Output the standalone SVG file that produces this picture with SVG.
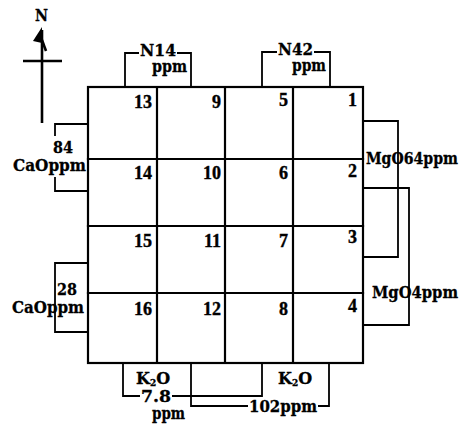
<svg xmlns="http://www.w3.org/2000/svg" width="468" height="424" viewBox="0 0 468 424">
<style>
.g{fill:none;stroke:#000;stroke-width:2.2;stroke-linecap:square}
.b{fill:none;stroke:#000;stroke-width:1.8}
.n{font-family:"Liberation Serif",serif;font-weight:bold;font-size:18px;fill:#000;stroke:#000;stroke-width:0.4;text-anchor:end}
.t{font-family:"DejaVu Serif","Liberation Serif",serif;font-weight:bold;font-size:16px;fill:#000;stroke:#000;stroke-width:0.3}
.s{font-size:9px}
</style>
<rect width="468" height="424" fill="#fff"/>
<g id="north">
<text class="t" x="35" y="21" textLength="13" lengthAdjust="spacingAndGlyphs">N</text>
<polygon points="42,27 33,41 42,43" fill="#000"/>
<line x1="42" y1="40" x2="46" y2="51" stroke="#000" stroke-width="2.6"/>
<line x1="42" y1="30" x2="42" y2="123" stroke="#000" stroke-width="2.6"/>
<line x1="23" y1="61" x2="62" y2="61" stroke="#000" stroke-width="2.6"/>
</g>
<g id="grid">
<rect class="g" x="88" y="87" width="275" height="276" stroke-width="2.6"/>
<line class="g" x1="157" y1="87" x2="157" y2="363"/>
<line class="g" x1="225" y1="87" x2="225" y2="363"/>
<line class="g" x1="293" y1="87" x2="293" y2="363"/>
<line class="g" x1="88" y1="159" x2="363" y2="159"/>
<line class="g" x1="88" y1="226" x2="363" y2="226"/>
<line class="g" x1="88" y1="293" x2="363" y2="293"/>
</g>
<g id="plots">
<text class="n" x="152" y="108">13</text><text class="n" x="221" y="108">9</text><text class="n" x="288" y="106">5</text><text class="n" x="357" y="106">1</text>
<text class="n" x="152" y="179">14</text><text class="n" x="221" y="179">10</text><text class="n" x="288" y="179">6</text><text class="n" x="357" y="177">2</text>
<text class="n" x="152" y="247">15</text><text class="n" x="221" y="247">11</text><text class="n" x="288" y="247">7</text><text class="n" x="357" y="243">3</text>
<text class="n" x="152" y="315">16</text><text class="n" x="221" y="315">12</text><text class="n" x="288" y="315">8</text><text class="n" x="357" y="312">4</text>
</g>
<g id="connectors">
<polyline class="b" points="125,87 125,53 139,53"/>
<polyline class="b" points="177,53 191,53 191,87"/>
<polyline class="b" points="262,87 262,52 277,52"/>
<polyline class="b" points="314,52 330,52 330,87"/>
<polyline class="b" points="88,124 55,124 55,136"/>
<polyline class="b" points="55,177 55,191 88,191"/>
<polyline class="b" points="88,263 55,263 55,332 88,332"/>
<polyline class="b" points="363,121 398,121 398,257 363,257"/>
<polyline class="b" points="363,188 409,188 409,325 363,325"/>
<polyline class="b" points="123,363 123,396 140,396"/>
<polyline class="b" points="172,396 262,396 262,363"/>
<polyline class="b" points="191,363 191,406 248,406"/>
<polyline class="b" points="318,406 329,406 329,363"/>
</g>
<g id="n14">
<text class="t" x="140" y="56" textLength="36" lengthAdjust="spacingAndGlyphs">N14</text>
<text class="t" x="152" y="72" textLength="35" lengthAdjust="spacingAndGlyphs">ppm</text>
</g>
<g id="n42">
<text class="t" x="278" y="55" textLength="35" lengthAdjust="spacingAndGlyphs">N42</text>
<text class="t" x="292" y="71" textLength="34" lengthAdjust="spacingAndGlyphs">ppm</text>
</g>
<g id="cao84">
<text class="t" x="53" y="153" textLength="20" lengthAdjust="spacingAndGlyphs">84</text>
<text class="t" x="13" y="171" textLength="73" lengthAdjust="spacingAndGlyphs">CaOppm</text>
</g>
<g id="cao28">
<text class="t" x="57" y="295" textLength="20" lengthAdjust="spacingAndGlyphs">28</text>
<text class="t" x="12" y="313" textLength="72" lengthAdjust="spacingAndGlyphs">CaOppm</text>
</g>
<g id="mgo64">
<text class="t" x="366" y="164" font-size="14" textLength="92" lengthAdjust="spacingAndGlyphs">MgO64ppm</text>
</g>
<g id="mgo4">
<text class="t" x="372" y="298" font-size="15" textLength="86" lengthAdjust="spacingAndGlyphs">MgO4ppm</text>
</g>
<g id="k2o78">
<text class="t" x="136" y="384">K<tspan class="s" dy="2">2</tspan><tspan dy="-2">O</tspan></text>
<text class="t" x="141" y="402" textLength="30" lengthAdjust="spacingAndGlyphs">7.8</text>
<text class="t" x="152" y="419" textLength="33" lengthAdjust="spacingAndGlyphs">ppm</text>
</g>
<g id="k2o102">
<text class="t" x="278" y="384">K<tspan class="s" dy="2">2</tspan><tspan dy="-2">O</tspan></text>
<text class="t" x="249" y="412" textLength="68" lengthAdjust="spacingAndGlyphs">102ppm</text>
</g>
</svg>
